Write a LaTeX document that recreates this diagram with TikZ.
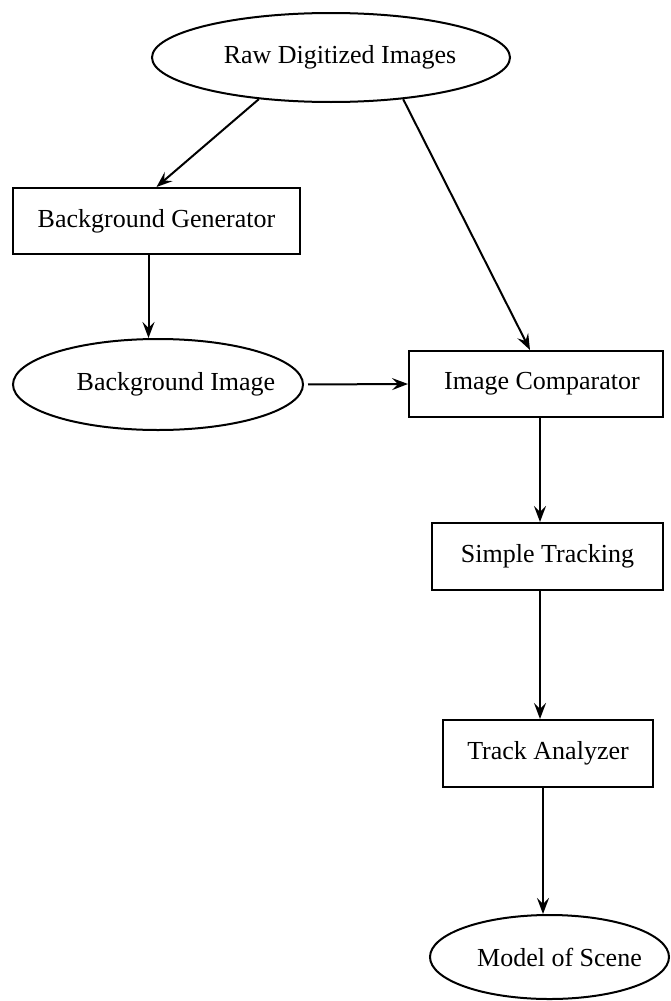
\documentclass[tikz,border=0pt]{standalone}
\usepackage{fontspec}
\setmainfont{Liberation Serif}
\usetikzlibrary{arrows.meta,positioning,shapes.geometric}
\tikzset{box/.style={draw,line width=1pt,inner sep=0pt,font=\fontsize{13}{15}\selectfont},
  oval/.style={ellipse,draw,line width=1pt,inner sep=0pt,font=\fontsize{13}{15}\selectfont},
  flow/.style={-{Stealth[length=8pt,width=6pt,inset=3pt]},line width=1pt}}

\begin{document}
\begin{tikzpicture}[x=0.5pt,y=-0.5pt]
\useasboundingbox (0,0) rectangle (670,1001);
\node[oval,minimum width=179pt,minimum height=44.5pt] (raw) at (331,57.5) {\makebox[0pt]{\hspace{9pt}Raw Digitized Images}};
\node[box,minimum width=143.5pt,minimum height=33pt] (bggen) at (156.5,221) {Background Generator};
\node[oval,minimum width=145pt,minimum height=45.5pt] (bgimg) at (158,384.5) {\makebox[0pt]{\hspace{18pt}Background Image}};
\node[box,minimum width=127pt,minimum height=33pt] (cmp) at (536,384) {\hspace{6pt}Image Comparator};
\node[box,minimum width=115.5pt,minimum height=33.5pt] (trk) at (547.5,556.5) {Simple Tracking};
\node[box,minimum width=105pt,minimum height=33.5pt] (ana) at (548,753.5) {Track Analyzer};
\node[oval,minimum width=119.5pt,minimum height=42pt] (model) at (549.5,957) {\makebox[0pt]{\hspace{10pt}Model of Scene}};
\draw[flow] (raw.210) -- (bggen.north);
\draw[flow] (raw.330) -- ([xshift=-3pt]cmp.north);
\draw[flow] ([xshift=-4pt]bggen.south) -- ([xshift=-4pt]bggen.south |- bgimg.north);
\draw[flow,shorten <=2pt] (bgimg.east) -- (cmp.west);
\draw[flow] ([xshift=2pt]cmp.south) -- ([xshift=2pt]cmp.south |- trk.north);
\draw[flow] ([xshift=-3.75pt]trk.south) -- ([xshift=-3.75pt]trk.south |- ana.north);
\draw[flow] ([xshift=-2.5pt]ana.south) -- ([xshift=-2.5pt]ana.south |- model.north);
\end{tikzpicture}
\end{document}
